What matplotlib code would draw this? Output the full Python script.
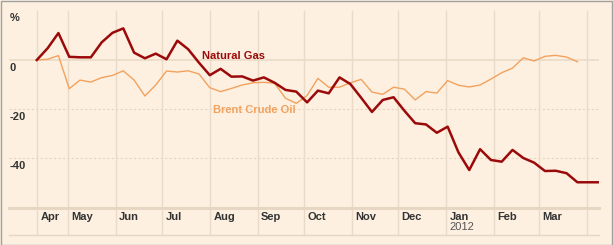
import matplotlib
matplotlib.use("Agg")
import matplotlib.pyplot as plt
import matplotlib.dates as mdates
import matplotlib.transforms as mtransforms
from matplotlib.patches import Rectangle
import pandas as pd

# ---- data ----
start_date = "2011-04-11"
gas = [0, 4.8, 11.0, 1.3, 1.1, 1.1, 7.2, 11.1, 12.9, 3.0, 0.7, 2.6, 0.3, 7.9, 4.4,
       -1.1, -6.2, -3.6, -6.8, -6.7, -8.4, -7.1, -9.3, -12.2, -12.9, -17.3, -12.5,
       -13.6, -7.1, -9.8, -15.4, -21.2, -16.3, -15.2, -20.7, -25.8, -26.3, -29.7,
       -27.2, -37.7, -44.9, -36.4, -40.8, -41.5, -36.7, -40.0, -41.9, -45.3, -45.2,
       -46.2, -49.9, -49.9, -49.9]
brent = [0, 0.3, 1.8, -11.7, -8.2, -9.0, -7.2, -6.3, -4.4, -8.2, -14.7, -10.2, -4.5,
         -4.9, -4.4, -5.7, -11.3, -12.9, -11.6, -10.2, -9.3, -9.1, -9.5, -15.6, -17.7,
         -14.5, -7.5, -11.1, -11.1, -9.3, -7.9, -13.1, -14.0, -11.1, -11.9, -16.3,
         -12.9, -13.5, -8.4, -10.3, -11.0, -10.2, -7.8, -5.2, -3.3, 0.9, -0.4, 1.5,
         1.9, 1.2, -0.7]
month_ticks = ["2011-04-11", "2011-05-01", "2011-06-01", "2011-07-01", "2011-08-01",
               "2011-09-01", "2011-10-01", "2011-11-01", "2011-12-01", "2012-01-01",
               "2012-02-01", "2012-03-01", "2012-04-01"]
month_labels = ["Apr", "May", "Jun", "Jul", "Aug", "Sep", "Oct", "Nov", "Dec",
                "Jan", "Feb", "Mar", ""]
y_ticks = [0, -20, -40]
y_labels = ["0", "-20", "-40"]

gas_dates = pd.date_range(start_date, periods=len(gas), freq="7D")
brent_dates = pd.date_range(start_date, periods=len(brent), freq="7D")

BG = "#FDF0E0"
GRID = "#EADBC8"
GAS_C = "#9B0A0A"
BRENT_C = "#F2A25E"
TXT = "#333333"
FONT = "Liberation Sans"

W, H = 613, 245
fig = plt.figure(figsize=(W / 100, H / 100), dpi=100, facecolor=BG)
ax_left, ax_right, ax_top, ax_bottom = 9, 599, 11, 208
ax = fig.add_axes([ax_left / W, 1 - ax_bottom / H, (ax_right - ax_left) / W,
                   (ax_bottom - ax_top) / H])
ax.set_facecolor(BG)
for s in ax.spines.values():
    s.set_visible(False)

ax.set_xlim(pd.Timestamp("2011-03-24"), pd.Timestamp("2012-04-09"))
ax.set_ylim(-60.4, 20)
ax.set_xticks([])
ax.set_yticks([])

# horizontal grid lines
ax.axhline(0, color=GRID, lw=1.2, zorder=1)
for v in y_ticks[1:]:
    ax.axhline(v, color="#E6D3BD", lw=0.8, ls=(0, (2, 2)), zorder=1)

ext = 27 / (ax_bottom - ax_top)
# vertical grid lines, extend down through the label band
for d in month_ticks:
    ax.axvline(pd.Timestamp(d), ymin=-ext, ymax=1, color=GRID, lw=1.0,
               clip_on=False, zorder=1)
# axis line and bottom line
ax.plot([0, 1], [0, 0], transform=ax.transAxes, color="#E6D6C2", lw=2.2,
        clip_on=False, zorder=2)
ax.plot([0, 1], [-ext, -ext], transform=ax.transAxes, color="#E6D6C2", lw=1.0,
        clip_on=False, zorder=2)

# data
ax.plot(brent_dates, brent, color=BRENT_C, lw=1.0, zorder=3)
ax.plot(gas_dates, gas, color=GAS_C, lw=1.8, zorder=4)

# month labels
trans = mtransforms.blended_transform_factory(ax.transData, ax.transAxes)
trans_off = mtransforms.offset_copy(trans, fig=fig, x=3.5, y=0, units="dots")
for d, lab in zip(month_ticks, month_labels):
    ax.text(pd.Timestamp(d), -9 / (ax_bottom - ax_top), lab, transform=trans_off,
            ha="left", va="center", fontsize=8, fontweight="bold", color=TXT,
            family=FONT)
ax.text(pd.Timestamp("2012-01-01"), -19.5 / (ax_bottom - ax_top), "2012",
        transform=trans_off, ha="left", va="center", fontsize=8, color="#555555",
        family=FONT)

# y labels
ytrans = mtransforms.blended_transform_factory(fig.transFigure, ax.transData)
ytrans_off = mtransforms.offset_copy(ytrans, fig=fig, x=0, y=-8, units="dots")
for v, lab in zip(y_ticks, y_labels):
    ax.text(10 / W, v, lab, transform=ytrans_off, ha="left", va="center",
            fontsize=8, fontweight="bold", color=TXT, family=FONT)
fig.text(10 / W, 1 - 18 / H, "%", ha="left", va="center", fontsize=8,
         fontweight="bold", color=TXT, family=FONT)

# series labels
ax.text(pd.Timestamp("2011-07-27"), 1.8, "Natural Gas", color=GAS_C, fontsize=8,
        fontweight="bold", ha="left", va="center", family=FONT, zorder=5)
ax.text(pd.Timestamp("2011-08-03"), -20.6, "Brent Crude Oil", color=BRENT_C,
        fontsize=8, fontweight="bold", ha="left", va="center", family=FONT, zorder=5)

# figure border
fig.patches.append(Rectangle((0.5 / W, 0.5 / H), 1 - 1.5 / W, 1 - 1.5 / H,
                             transform=fig.transFigure, fill=False,
                             edgecolor="#A0A0A0", lw=1.0))

fig.savefig("out.png", dpi=100, facecolor=BG)
